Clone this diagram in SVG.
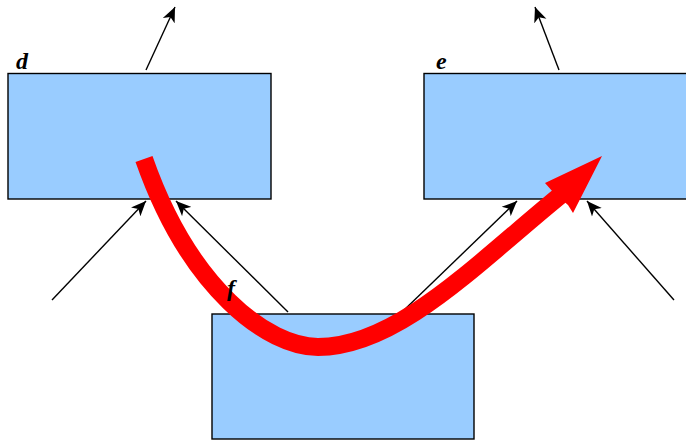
<svg xmlns="http://www.w3.org/2000/svg" width="686" height="440" viewBox="0 0 686 440">
<style>
.box{fill:#99ccff;stroke:#000;stroke-width:1.4}
.lbl{font-family:"Liberation Serif",serif;font-style:italic;font-weight:bold;font-size:24px;fill:#000}
.ar{stroke:#000;stroke-width:1.4;fill:none;marker-end:url(#ah)}
</style>
<defs>
<marker id="ah" markerUnits="userSpaceOnUse" markerWidth="17" markerHeight="14" refX="15" refY="6.5" orient="auto" viewBox="0 0 17 13">
<path d="M0,0 L15,6.5 L0,13 L4,6.5 z" fill="#000"/>
</marker>
</defs>
<g id="d"><rect class="box" x="8" y="73.5" width="263" height="125.5"/><text class="lbl" x="16" y="69">d</text></g>
<g id="e"><rect class="box" x="424" y="73.5" width="263" height="125.5"/><text class="lbl" x="436" y="69">e</text></g>
<g id="f"><rect class="box" x="212" y="314" width="262" height="125"/></g>
<g id="connectors">
<line class="ar" x1="146" y1="70" x2="175" y2="7"/>
<line class="ar" x1="559" y1="70" x2="535" y2="7"/>
<line class="ar" x1="52" y1="300" x2="146" y2="201"/>
<line class="ar" x1="288" y1="312" x2="176" y2="201"/>
<line class="ar" x1="401" y1="313" x2="517" y2="201"/>
<line class="ar" x1="674" y1="300" x2="587" y2="201"/>
<path d="M144,159 C189.5,289 268,347 318,347 C398,347 478,262 562,194" fill="none" stroke="#ff0000" stroke-width="18"/>
<polygon points="602,156 545,183 553,192 568,205 573,213" fill="#ff0000"/>
</g>
<g id="f-label"><text class="lbl" x="227" y="296">f</text></g>
</svg>
